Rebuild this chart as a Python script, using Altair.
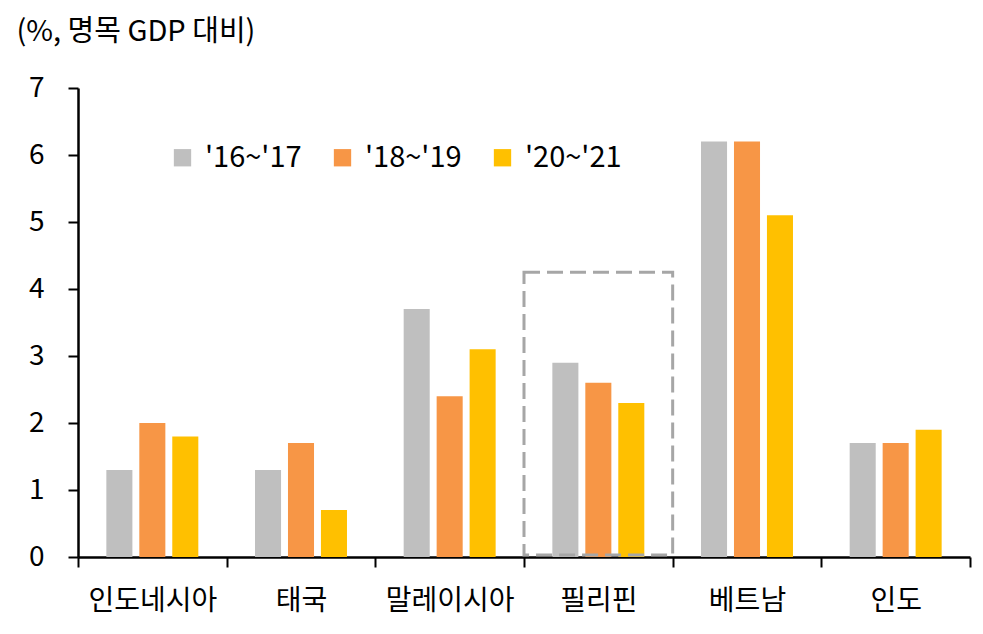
import altair as alt
import pandas as pd

countries = ["인도네시아", "태국", "말레이시아", "필리핀", "베트남", "인도"]
series = ["'16~'17", "'18~'19", "'20~'21"]
colors = ["#BFBFBF", "#F79646", "#FFC000"]
v1617 = [1.3, 1.3, 3.7, 2.9, 6.2, 1.7]
v1819 = [2.0, 1.7, 2.4, 2.6, 6.2, 1.7]
v2021 = [1.8, 0.7, 3.1, 2.3, 5.1, 1.9]
y_ticks = [0, 1, 2, 3, 4, 5, 6, 7]

# highlight box around Philippines
box_country = ["필리핀"]
box_low = [0.03]
box_high = [4.25]

rows = []
for i, c in enumerate(countries):
    for s, vals in zip(series, [v1617, v1819, v2021]):
        rows.append({"country": c, "series": s, "value": vals[i]})
df = pd.DataFrame(rows)
box_df = pd.DataFrame({"country": box_country, "lo": box_low, "hi": box_high})

FONT = "Noto Sans CJK KR"

x_enc = alt.X(
    "country:N", sort=countries,
    scale=alt.Scale(paddingInner=0, paddingOuter=0),
    axis=alt.Axis(
        title=None, labelAngle=0, labelFontSize=28, labelColor="#000000",
        labelPadding=20, tickBand="extent", tickSize=10, tickWidth=2,
        tickColor="#000000", domainColor="#000000", domainWidth=2.5,
        labelFont=FONT,
    ),
)

bars = alt.Chart(df).mark_bar().encode(
    x=x_enc,
    xOffset=alt.XOffset("series:N", sort=series,
                        scale=alt.Scale(paddingInner=0.21, paddingOuter=0.86)),
    y=alt.Y(
        "value:Q",
        scale=alt.Scale(domain=[0, 7], nice=False),
        axis=alt.Axis(
            values=y_ticks, format="d", title="(%, 명목 GDP 대비)", titleAngle=0,
            titleAlign="left", titleBaseline="alphabetic", titleX=-62, titleY=-48,
            titleFontSize=29, titleFontWeight="normal", titleColor="#000000",
            titleFont=FONT, labelFont=FONT,
            labelFontSize=28, labelColor="#000000", labelPadding=24,
            tickSize=10, tickWidth=2, tickColor="#000000",
            domainColor="#000000", domainWidth=2.5, grid=False,
        ),
    ),
    color=alt.Color(
        "series:N",
        scale=alt.Scale(domain=series, range=colors),
        legend=alt.Legend(
            title=None, orient="none", legendX=90, legendY=55,
            direction="horizontal", symbolType="square", symbolSize=300,
            symbolStrokeWidth=0, labelFontSize=29, labelFont=FONT,
            labelColor="#000000", columnPadding=26, labelOffset=8,
        ),
    ),
)

box = alt.Chart(box_df).mark_rect(
    fill=None, stroke="#A6A6A6", strokeWidth=3, strokeDash=[16, 7]
).encode(
    x=alt.X("country:N", sort=countries),
    y="lo:Q",
    y2="hi:Q",
)

chart = alt.layer(bars, box).properties(
    width=892, height=469,
    padding={"left": 70, "top": 80, "right": 5, "bottom": 70},
    autosize=alt.AutoSizeParams(type="none"),
    background="#FFFFFF",
).configure_view(stroke=None)

chart.save("out.html", embed_options={"renderer": "svg", "actions": False})
